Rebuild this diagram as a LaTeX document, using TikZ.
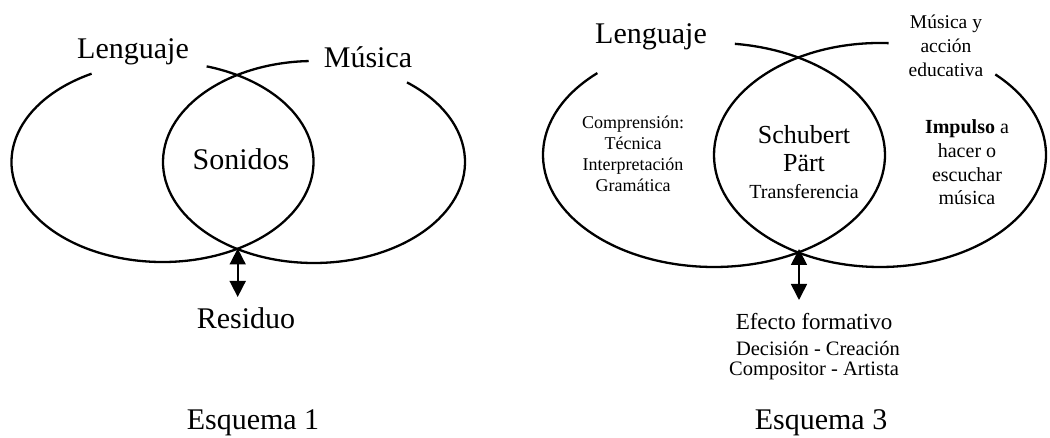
\documentclass[tikz,border=0pt]{standalone}
\usepackage{fontspec}
\setmainfont{Liberation Serif}
\usetikzlibrary{arrows.meta}
\begin{document}
\begin{tikzpicture}[x=1pt,y=1pt,
  ell/.style={line width=2.3pt},
  dblarrow/.style={line width=1.7pt,{Triangle[width=16pt,length=16pt]}-{Triangle[width=16pt,length=16pt]}},
  lbl/.style={inner sep=0pt,align=center},
  big/.style={lbl,font=\fontsize{30}{36}\selectfont},
]
\useasboundingbox (0,0) rectangle (1050,438);
% ---------- Esquema 1 ----------
\draw[ell] (162.5,276) ++(118:151 and 100) arc[start angle=118,end angle=433,x radius=151,y radius=100];
\draw[ell] (314,276) ++(92:151 and 101) arc[start angle=92,end angle=412,x radius=151,y radius=101];
\node[big] (len1) at (133,386) {Lenguaje};
\node[big] (mus1) at (368,381) {Música};
\node[big] (son) at (241,279) {Sonidos};
\node[big] (res) at (246,120) {Residuo};
\node[big,anchor=base] (esq1) at (253,8) {Esquema 1};
\coordinate (i1) at (237.7,189.5);
\coordinate (a1) at (237.7,141);
\draw[dblarrow] (i1) -- (a1);
% ---------- Esquema 3 ----------
\draw[ell] (714,283) ++(133:171 and 112) arc[start angle=133,end angle=443,x radius=171,y radius=112];
\draw[ell] (880,283) ++(87:166 and 112) arc[start angle=87,end angle=406,x radius=166,y radius=112];
\node[big] (len3) at (651,401) {Lenguaje};
\node[lbl,font=\fontsize{19.5}{24}\selectfont] (mus3) at (946,392) {Música y\\acción\\educativa};
\node[lbl,font=\fontsize{18}{21}\selectfont] (comp) at (633,284.5) {Comprensión:\\Técnica\\Interpretación\\Gramática};
\node[lbl,font=\fontsize{26}{28}\selectfont] (sch) at (804,289) {Schubert\\Pärt};
\node[lbl,font=\fontsize{20}{24}\selectfont] (tra) at (804,246) {Transferencia};
\node[lbl,font=\fontsize{20}{23.7}\selectfont] (imp) at (967,275.5) {\textbf{Impulso} a\\hacer o\\escuchar\\música};
\node[lbl,font=\fontsize{23}{26}\selectfont] (efe) at (814,116) {Efecto formativo};
\node[lbl,font=\fontsize{20.5}{24}\selectfont] (dec) at (818,90) {Decisión - Creación};
\node[lbl,font=\fontsize{20.5}{24}\selectfont] (cpo) at (814,67) {Compositor - Artista};
\node[big,anchor=base] (esq3) at (821,8) {Esquema 3};
\coordinate (i2) at (799,189);
\coordinate (a2) at (799,138);
\draw[dblarrow] (i2) -- (a2);
\end{tikzpicture}
\end{document}
